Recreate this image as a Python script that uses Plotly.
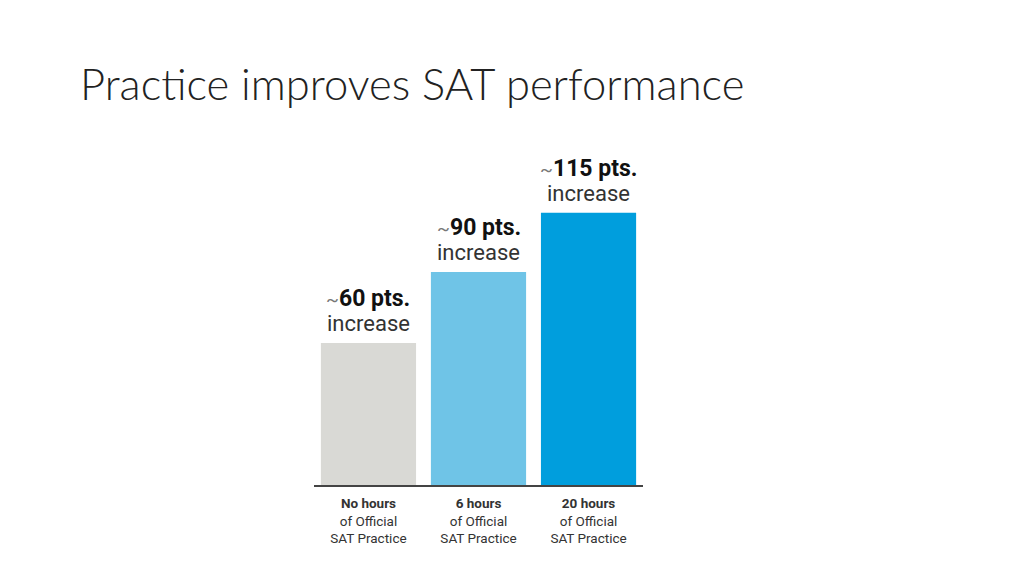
import plotly.graph_objects as go

# Data
categories = ["No hours", "6 hours", "20 hours"]
increase_pts = [60, 90, 115]
bar_colors = ["#d9d9d5", "#6fc4e7", "#009edd"]
tick_labels = ["<b>" + c + "</b><br>of Official<br>SAT Practice" for c in categories]

fig = go.Figure()

fig.add_trace(go.Bar(
    x=[0, 1, 2],
    y=increase_pts,
    marker=dict(color=bar_colors, line=dict(width=0)),
    width=0.865,
    hoverinfo="skip",
))

# labels above each bar (two lines, placed separately for tighter spacing)
for i, v in enumerate(increase_pts):
    fig.add_annotation(
        x=i, y=v, xref="x", yref="y",
        text="increase",
        showarrow=False, yanchor="bottom", yshift=5,
        font=dict(family="Roboto", size=22, color="#333"),
    )
    fig.add_annotation(
        x=i, y=v, xref="x", yref="y",
        text="<span style='font-size:19px;color:#777'>~</span><b>%d pts.</b>" % v,
        showarrow=False, yanchor="bottom", yshift=29,
        font=dict(family="Roboto", size=23, color="#111"),
    )

fig.update_layout(
    width=1024, height=576,
    margin=dict(l=306, r=389, t=142, b=99),
    paper_bgcolor="white", plot_bgcolor="white",
    showlegend=False,
    title=dict(
        text="Practice improves SAT performance",
        x=72 / 1024, xanchor="left", xref="container",
        y=1 - 77 / 576, yanchor="middle", yref="container",
        font=dict(family="Lato", size=43.5, color="#222", weight=300),
    ),
    xaxis=dict(
        range=[-0.495, 2.495],
        tickvals=[0, 1, 2],
        ticktext=tick_labels,
        tickfont=dict(family="Roboto", size=13.5, color="#333"),
        ticklabelstandoff=5,
        showline=True, linecolor="#444", linewidth=1.5,
        showgrid=False, zeroline=False, ticks="",
        fixedrange=True,
    ),
    yaxis=dict(
        range=[0, 141.5],
        visible=False,
        fixedrange=True,
    ),
)

fig.write_html("out.html")
